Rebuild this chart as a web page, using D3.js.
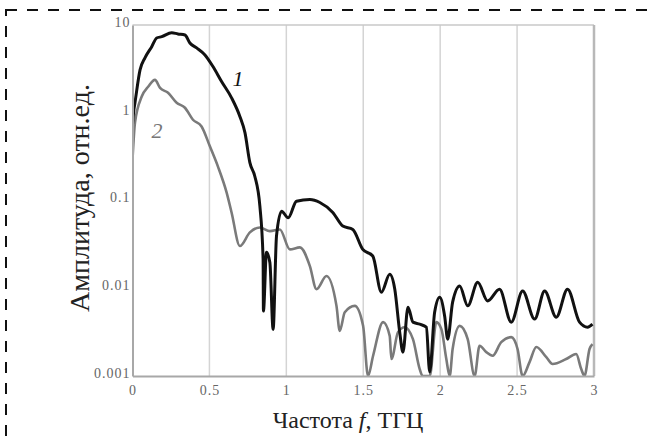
<!DOCTYPE html>
<html>
<head>
<meta charset="utf-8">
<script src="https://cdn.jsdelivr.net/npm/d3@7"></script>
<style>
  body { margin: 0; background: #fff; }
  svg { display: block; }
</style>
</head>
<body>
<svg id="chart" width="656" height="439"></svg>
<script>
// curve 1 (black)
const freq1 = [0, 0.009, 0.016, 0.049, 0.081, 0.125, 0.157, 0.19, 0.255, 0.295, 0.341, 0.373, 0.417, 0.471,
  0.523, 0.579, 0.644, 0.698, 0.731, 0.763, 0.795, 0.828, 0.849, 0.851, 0.871, 0.893, 0.914, 0.936, 0.969,
  1.012, 1.066, 1.153, 1.218, 1.302, 1.367, 1.432, 1.497, 1.562, 1.618, 1.672, 1.705, 1.737, 1.758, 1.791,
  1.823, 1.867, 1.91, 1.932, 1.964, 1.997, 2.029, 2.049, 2.081, 2.127, 2.179, 2.244, 2.308, 2.386, 2.462,
  2.536, 2.614, 2.679, 2.755, 2.828, 2.906, 2.958, 2.99];
const amp1 = [0.73, 1.08, 1.3, 3.08, 4.22, 5.66, 7.11, 7.36, 8.18, 7.91, 7.7, 6.24, 5.48, 4.56,
  3.36, 2.27, 1.48, 0.908, 0.593, 0.27, 0.189, 0.0861, 0.0214, 0.0055, 0.0257, 0.0197, 0.0034, 0.0393, 0.0755,
  0.0635, 0.0982, 0.1026, 0.0948, 0.0731, 0.0511, 0.0468, 0.0277, 0.0233, 0.009, 0.0144, 0.00975, 0.00316, 0.00187, 0.00608,
  0.00411, 0.0039, 0.0036, 0.00111, 0.00533, 0.00791, 0.00484, 0.00263, 0.00694, 0.0106, 0.0063, 0.0117, 0.00718, 0.00975, 0.00411,
  0.00931, 0.00445, 0.00931, 0.00468, 0.00975, 0.00411, 0.0036, 0.0039];

// curve 2 (gray)
const freq2 = [0, 0.016, 0.06, 0.103, 0.146, 0.179, 0.231, 0.287, 0.341, 0.393, 0.449, 0.503, 0.555, 0.612,
  0.644, 0.698, 0.763, 0.828, 0.893, 0.958, 1.023, 1.088, 1.153, 1.196, 1.261, 1.326, 1.347, 1.38, 1.445,
  1.499, 1.531, 1.564, 1.629, 1.672, 1.683, 1.726, 1.769, 1.823, 1.867, 1.886, 1.932, 1.975, 2.008, 2.04,
  2.062, 2.081, 2.127, 2.179, 2.224, 2.256, 2.3, 2.341, 2.397, 2.462, 2.503, 2.536, 2.581, 2.625, 2.69,
  2.731, 2.819, 2.884, 2.917, 2.938, 2.971, 2.99];
const amp2 = [0.292, 0.769, 1.53, 1.99, 2.37, 1.92, 1.69, 1.3, 1.14, 0.832, 0.698, 0.414, 0.245, 0.123,
  0.0731, 0.0303, 0.0433, 0.0493, 0.0448, 0.0468, 0.0277, 0.0292, 0.0179, 0.00975, 0.0138, 0.0063, 0.00327, 0.00533, 0.0063,
  0.00373, 0.001, 0.0017, 0.00411, 0.00287, 0.00156, 0.00316, 0.0036, 0.00263, 0.0012, 0.001, 0.001, 0.00411, 0.00342, 0.00156,
  0.001, 0.00203, 0.00373, 0.00263, 0.001, 0.00221, 0.00187, 0.0017, 0.00243, 0.00277, 0.00203, 0.001, 0.00144, 0.00214, 0.00164,
  0.00137, 0.00156, 0.00178, 0.0012, 0.001, 0.00203, 0.00231];

const xTicks = [0, 0.5, 1, 1.5, 2, 2.5, 3];
const xTickLabels = ['0', '0.5', '1', '1.5', '2', '2.5', '3'];
const yTicks = [0.001, 0.01, 0.1, 1, 10];
const yTickLabels = ['0.001', '0.01', '0.1', '1', '10'];

const svg = d3.select('#chart');
const plotLeft = 132.5, plotRight = 594, plotTop = 25, plotBottom = 376;
const serif = '"Liberation Serif", "DejaVu Serif", serif';

const x = d3.scaleLinear().domain([0, 3]).range([plotLeft, plotRight]);
const y = d3.scaleLog().domain([0.001, 10]).range([plotBottom, plotTop]);

// dashed frame around the figure
svg.append('rect')
    .attr('x', 6).attr('y', 10)
    .attr('width', 700).attr('height', 500)
    .attr('fill', 'none')
    .attr('stroke', '#111')
    .attr('stroke-width', 2)
    .attr('stroke-dasharray', '11 10');

// vertical grid
svg.append('g')
    .selectAll('line')
    .data(xTicks.slice(1, -1))
    .enter()
    .append('line')
    .attr('x1', d => x(d)).attr('x2', d => x(d))
    .attr('y1', plotTop).attr('y2', plotBottom)
    .attr('stroke', '#d4d4d4')
    .attr('stroke-width', 1.5);

// plot frame
svg.append('line').attr('x1', plotLeft).attr('x2', plotRight).attr('y1', plotTop).attr('y2', plotTop)
    .attr('stroke', '#c8c8c8').attr('stroke-width', 1.5);
svg.append('line').attr('x1', plotRight).attr('x2', plotRight).attr('y1', plotTop).attr('y2', plotBottom)
    .attr('stroke', '#b8b8b8').attr('stroke-width', 2.5);

svg.append('defs').append('clipPath').attr('id', 'plot-clip')
    .append('rect')
    .attr('x', plotLeft).attr('y', plotTop)
    .attr('width', plotRight - plotLeft).attr('height', plotBottom - plotTop);

const line = d3.line()
    .x(d => x(d[0]))
    .y(d => y(d[1]))
    .curve(d3.curveMonotoneX);

const curves = svg.append('g').attr('clip-path', 'url(#plot-clip)');

curves.append('path')
    .datum(d3.zip(freq2, amp2))
    .attr('d', line)
    .attr('fill', 'none')
    .attr('stroke', '#7a7a7a')
    .attr('stroke-width', 2.6)
    .attr('stroke-linejoin', 'round');

curves.append('path')
    .datum(d3.zip(freq1, amp1))
    .attr('d', line)
    .attr('fill', 'none')
    .attr('stroke', '#111')
    .attr('stroke-width', 3)
    .attr('stroke-linejoin', 'round');

// axes
const xAxis = svg.append('g')
    .attr('transform', `translate(0,${plotBottom})`)
    .call(d3.axisBottom(x).tickValues(xTicks).tickFormat((d, i) => xTickLabels[i]).tickSize(0).tickPadding(9));
const yAxis = svg.append('g')
    .attr('transform', `translate(${plotLeft},0)`)
    .call(d3.axisLeft(y).tickValues(yTicks).tickFormat((d, i) => yTickLabels[i]).tickSize(0).tickPadding(2));

[xAxis, yAxis].forEach(g => {
    g.select('.domain').attr('stroke', '#a8a8a8').attr('stroke-width', 2);
    g.selectAll('text')
        .attr('font-family', serif)
        .attr('font-size', 14)
        .attr('letter-spacing', 1)
        .attr('fill', '#666');
});
yAxis.selectAll('text').attr('dy', '0.1em');

// axis titles
const xTitle = svg.append('text')
    .attr('x', 348).attr('y', 428)
    .attr('text-anchor', 'middle')
    .attr('font-family', serif)
    .attr('font-size', 24)
    .attr('fill', '#222');
xTitle.append('tspan').text('Частота ');
xTitle.append('tspan').attr('font-style', 'italic').text('f');
xTitle.append('tspan').text(', ТГЦ');

svg.append('text')
    .attr('transform', 'translate(89,198) rotate(-90)')
    .attr('text-anchor', 'middle')
    .attr('font-family', serif)
    .attr('font-size', 28)
    .attr('fill', '#222')
    .text('Амплитуда, отн.ед.');

// curve labels
svg.append('text')
    .attr('x', 238).attr('y', 86)
    .attr('text-anchor', 'middle')
    .attr('font-family', serif)
    .attr('font-style', 'italic')
    .attr('font-size', 22)
    .attr('fill', '#111')
    .text('1');
svg.append('text')
    .attr('x', 157).attr('y', 138)
    .attr('text-anchor', 'middle')
    .attr('font-family', serif)
    .attr('font-style', 'italic')
    .attr('font-size', 22)
    .attr('fill', '#777')
    .text('2');
</script>
</body>
</html>
